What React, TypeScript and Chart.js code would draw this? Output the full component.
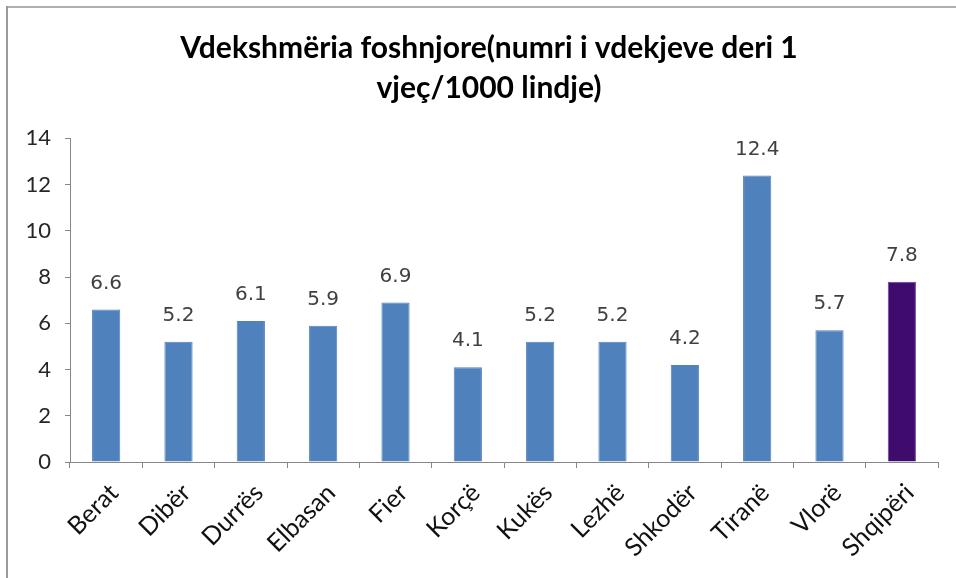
import React, { useEffect, useRef } from "react";
import { Chart, registerables } from "chart.js";

Chart.register(...registerables);

const categories = ["Berat", "Dibër", "Durrës", "Elbasan", "Fier", "Korçë", "Kukës", "Lezhë", "Shkodër", "Tiranë", "Vlorë", "Shqipëri"];
const values = [6.6, 5.2, 6.1, 5.9, 6.9, 4.1, 5.2, 5.2, 4.2, 12.4, 5.7, 7.8];
const titleLines = ["Vdekshmëria foshnjore(numri i vdekjeve deri 1", "vjeç/1000 lindje)"];
const yMin = 0;
const yMax = 14;
const yStep = 2;

const BLUE = "#4f81bd";
const PURPLE = "#3f0c6e";

const dataLabels = {
  id: "dataLabels",
  afterDatasetsDraw(chart: any) {
    const ctx = chart.ctx;
    const meta = chart.getDatasetMeta(0);
    ctx.save();
    ctx.font = "20px 'DejaVu Sans'";
    ctx.fillStyle = "#404040";
    ctx.textAlign = "center";
    ctx.textBaseline = "middle";
    meta.data.forEach((bar: any, i: number) => {
      const v = chart.data.datasets[0].data[i];
      ctx.fillText(Number(v).toFixed(1), bar.x, bar.y - 26);
    });
    ctx.restore();
  },
};

export default function App() {
  const ref = useRef<HTMLCanvasElement>(null);
  useEffect(() => {
    if (!ref.current) return;
    const chart = new Chart(ref.current, {
      type: "bar",
      data: {
        labels: categories,
        datasets: [
          {
            data: values,
            backgroundColor: values.map((_, i) => (i === values.length - 1 ? PURPLE : BLUE)),
            borderColor: values.map((_, i) => (i === values.length - 1 ? "#6b3fa0" : BLUE)),
            borderWidth: 1,
            categoryPercentage: 1,
            barPercentage: 0.39,
          },
        ],
      },
      options: {
        responsive: false,
        animation: false,
        layout: { padding: { left: 22, right: 0, top: 0, bottom: 0 } },
        plugins: {
          legend: { display: false },
          tooltip: { enabled: false },
          title: {
            display: true,
            text: titleLines,
            color: "#000",
            font: { family: "Lato", size: 30, weight: "bold", lineHeight: 1.34 },
            padding: { top: 28, bottom: 30 },
          },
        },
        scales: {
          x: {
            grid: { drawOnChartArea: false, drawTicks: true, tickLength: 6, color: "#868686", offset: true },
            border: { display: true, color: "#868686" },
            ticks: {
              color: "#111",
              font: { family: "Lato", size: 25 },
              maxRotation: 45,
              minRotation: 45,
              padding: 10,
              labelOffset: 8,
              autoSkip: false,
            },
            afterFit(scale: any) {
              scale.height = 116;
            },
          },
          y: {
            min: yMin,
            max: yMax,
            grid: { drawOnChartArea: false, drawTicks: true, tickLength: 5, color: "#868686" },
            border: { display: true, color: "#868686" },
            ticks: {
              stepSize: yStep,
              color: "#262626",
              font: { family: "Lato", size: 22 },
              padding: 14,
            },
            afterFit(scale: any) {
              scale.width = 48;
            },
          },
          yRight: {
            position: "right",
            display: true,
            grid: { display: false },
            border: { display: false },
            ticks: { display: false },
            afterFit(scale: any) {
              scale.width = 18;
            },
          },
        },
      },
      plugins: [dataLabels],
    });
    return () => chart.destroy();
  }, []);
  return (
    <div style={{ position: "absolute", left: 0, top: 0, width: 956, height: 578, background: "#fff" }}>
      <canvas ref={ref} width={956} height={578} style={{ position: "absolute", left: 0, top: 0 }} />
      <div style={{ position: "absolute", left: 6, top: 6, width: 950, height: 2, background: "#b0b0b0" }} />
      <div style={{ position: "absolute", left: 6, top: 6, width: 2, height: 572, background: "#9a9a9a" }} />
    </div>
  );
}
